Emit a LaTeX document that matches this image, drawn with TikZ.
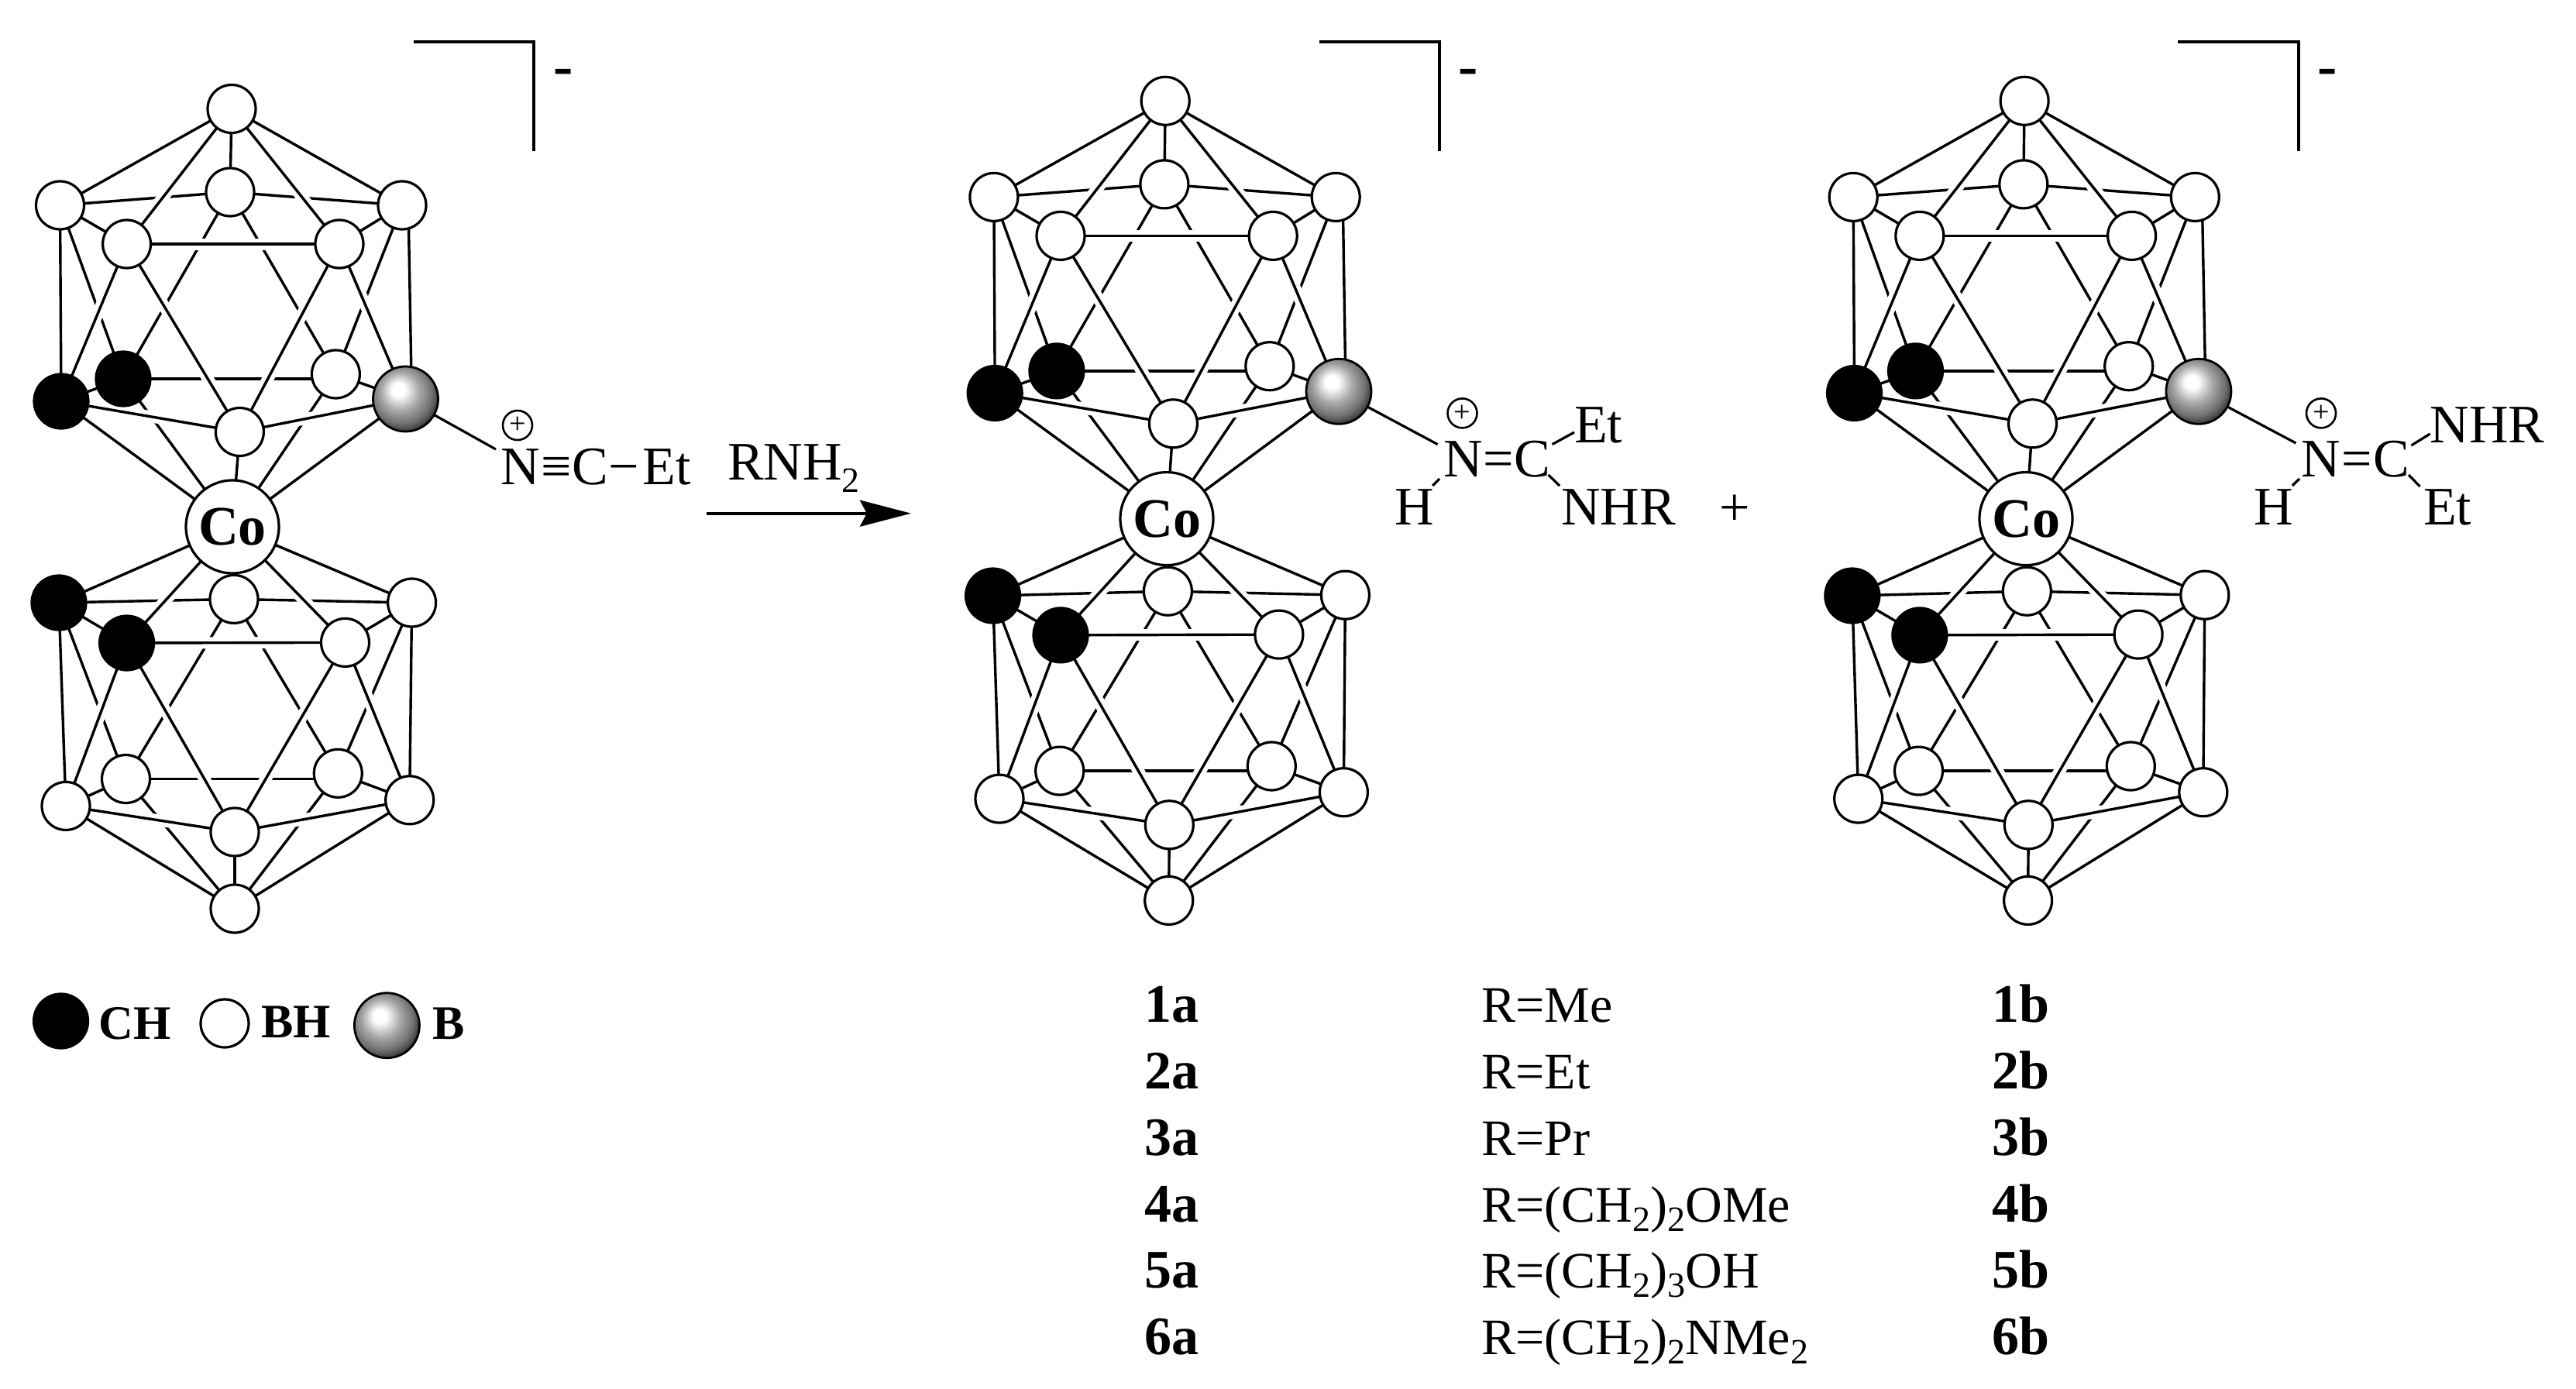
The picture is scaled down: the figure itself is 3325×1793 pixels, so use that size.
\documentclass[tikz,border=0pt]{standalone}
\usepackage{fontspec}
\setmainfont{Liberation Serif}
\usetikzlibrary{arrows.meta}
\pgfdeclarelayer{backl}
\pgfdeclarelayer{halol}
\pgfdeclarelayer{frontl}
\pgfsetlayers{backl,halol,frontl,main}
\pgfdeclareradialshading{sphereB}{\pgfpoint{-6bp}{8bp}}{color(0bp)=(white); color(5bp)=(white); color(15bp)=(black!35); color(23bp)=(black!55); color(31bp)=(black!88); color(50bp)=(black)}
\tikzset{
  edge/.style={draw=black,line width=1.7pt,line cap=butt},
  halo/.style={draw=white,line width=7.5pt,line cap=butt},
  atomW/.style={circle,draw=black,fill=white,line width=1.6pt,inner sep=0pt,outer sep=0pt,minimum size=31pt},
  atomK/.style={circle,fill=black,inner sep=0pt,outer sep=0pt,minimum size=36.6pt},
  atomB/.style={circle,draw=black,line width=1.4pt,shade,shading=sphereB,inner sep=0pt,outer sep=0pt,minimum size=42pt},
  atomCo/.style={circle,draw=black,fill=white,line width=1.6pt,inner sep=0pt,outer sep=0pt,minimum size=60pt,font=\fontsize{36}{36}\selectfont\bfseries},
  txt/.style={inner sep=0pt,outer sep=0pt,anchor=base west,font=\fontsize{35}{35}\selectfont},
  sym/.style={inner sep=0pt,outer sep=0pt,font=\fontsize{35}{35}\selectfont},
  tbl/.style={inner sep=0pt,outer sep=0pt,anchor=base west,font=\fontsize{33}{33}\selectfont},
  lab/.style={inner sep=0pt,outer sep=0pt,anchor=base west,font=\fontsize{35}{35}\selectfont\bfseries},
  leg/.style={inner sep=0pt,outer sep=0pt,anchor=base west,font=\fontsize{31}{31}\selectfont\bfseries},
  chg/.style={circle,draw=black,line width=1.3pt,inner sep=0pt,outer sep=0pt,minimum size=19pt,font=\fontsize{19}{19}\selectfont},
  mns/.style={inner sep=0pt,outer sep=0pt,font=\fontsize{38}{38}\selectfont\bfseries},
  bracket/.style={draw=black,line width=1.8pt,line join=miter},
  bond/.style={draw=black,line width=1.6pt},
  rxn/.style={draw=black,line width=1.8pt,-{Stealth[length=33pt,width=17pt,inset=4.4pt]}}
}
\newcommand{\subs}[1]{\raisebox{-6pt}{\fontsize{23}{23}\selectfont #1}}
% #1 deck prefix, #2 apex node, #3 foot node, #4 shift of the right upright edge
\newcommand{\deck}[4]{%
  \begin{pgfonlayer}{backl}
    \foreach \a/\b in {#2/#1BT,#1UL/#1BT,#1UR/#1BT,#1BT/#1BL,#1BT/#1BR,#1UL/#1BL,#1UR/#1BR,#1BL/#3,#1BR/#3,#1L/#1BL,#1BR/#1R}
      \draw[edge] (\a.center) -- (\b.center);
    \draw[edge] (#1BL.center) -- (#1BL.center -| #1BR.center);
  \end{pgfonlayer}
  \begin{pgfonlayer}{halol}
    \foreach \a/\b in {#2/#1UL,#2/#1UR,#2/#1FL,#2/#1FR,#1UL/#1FL,#1FL/#1FR,#1FR/#1UR,#1UL/#1L,#1FL/#1L,#1FL/#1C,#1FR/#1C,#1FR/#1R,#1L/#1C,#1C/#1R,#1L/#3,#1R/#3,#1C/#3}
      \draw[halo] (\a.center) -- (\b.center);
  \end{pgfonlayer}
  \begin{pgfonlayer}{frontl}
    \foreach \a/\b in {#2/#1UL,#2/#1UR,#2/#1FL,#2/#1FR,#1UL/#1FL,#1FL/#1FR,#1FR/#1UR,#1UL/#1L,#1FL/#1L,#1FL/#1C,#1FR/#1C,#1FR/#1R,#1L/#1C,#1C/#1R,#1L/#3,#1R/#3,#1C/#3}
      \draw[edge] (\a.center) -- (\b.center);
    \draw[edge] ([xshift=#4]#1UR.center) -- ([xshift=#4]#1R.center);
  \end{pgfonlayer}
}
\begin{document}
\begin{tikzpicture}[x=0.5pt,y=-0.5pt]
\useasboundingbox (0,0) rectangle (3325,1793);

%% complex 1
\node[atomW] (aT) at (299,140.5) {};
\node[atomW] (auUL) at (77.5,265) {};
\node[atomW] (auBT) at (297,248) {};
\node[atomW] (auUR) at (519,265) {};
\node[atomW] (auFL) at (163.6,315) {};
\node[atomW] (auFR) at (438,315) {};
\node[atomW] (auBR) at (433.4,483) {};
\node[atomK] (auBL) at (159,489) {};
\node[atomK] (auL) at (79,518) {};
\node[atomB] (auR) at (523.5,515) {};
\node[atomW] (auC) at (309.4,557.5) {};
\node[atomCo] (aCo) at (300,680) {Co};
\node[atomW] (alBT) at (302,773.4) {};
\node[atomK] (alUL) at (76,778) {};
\node[atomW] (alUR) at (531.6,778) {};
\node[atomK] (alFL) at (163.6,830) {};
\node[atomW] (alFR) at (445.5,829.4) {};
\node[atomW] (alBL) at (162.5,1005.5) {};
\node[atomW] (alBR) at (436.3,998.3) {};
\node[atomW] (alL) at (85,1040.4) {};
\node[atomW] (alR) at (528.7,1032.8) {};
\node[atomW] (alC) at (303,1074) {};
\node[atomW] (aBot) at (303,1173) {};
\deck{au}{aT}{aCo}{4pt}
\deck{al}{aCo}{aBot}{0pt}
\coordinate (abA) at (534,54);
\coordinate (abB) at (689,54);
\coordinate (abC) at (689,195);
\draw[bracket] (abA) -- (abB) -- (abC);
\node[mns] (aMinus) at (727,100) {-};
\node[chg] (aPlus) at (668,549) {+};
\node[txt] (aN) at (646,625) {N};
\node[sym,anchor=base] (aTri) at (718,625) {≡};
\node[txt] (aCc) at (738,625) {C};
\node[sym,anchor=base] (aDash) at (805,625) {−};
\node[txt] (aEt) at (829.5,625) {Et};
\coordinate (aBnd) at (640,580);
\draw[bond] (auR) -- (aBnd);

%% legend
\node[atomK] (legK) at (78.6,1318) {};
\node[leg] (legCH) at (127.4,1341.4) {CH};
\node[atomW] (legW) at (290,1321) {};
\node[leg] (legBH) at (337,1339) {BH};
\node[atomB] (legB) at (499.4,1323.7) {};
\node[leg] (legBB) at (558,1341.4) {B};

%% arrow
\node[txt] (rnh) at (939,619.3) {RNH\raisebox{-8pt}{\fontsize{23}{23}\selectfont 2}};
\coordinate (arrS) at (912,662.7);
\coordinate (arrE) at (1176,662.7);
\draw[rxn] (arrS) -- (arrE);
\node[sym] (plusS) at (2239.7,658.7) {+};

%% complex 2
\node[atomW] (bT) at (1504.2,130.3) {};
\node[atomW] (buUL) at (1282.9,254.4) {};
\node[atomW] (buBT) at (1502.9,237.9) {};
\node[atomW] (buUR) at (1724.2,254.4) {};
\node[atomW] (buFL) at (1369,304.4) {};
\node[atomW] (buFR) at (1643.2,304.4) {};
\node[atomW] (buBR) at (1638.8,472.7) {};
\node[atomK] (buBL) at (1363.9,478.9) {};
\node[atomK] (buL) at (1284.2,507.5) {};
\node[atomB] (buR) at (1728,505.3) {};
\node[atomW] (buC) at (1514.4,546.8) {};
\node[atomCo] (bCo) at (1506,669.6) {Co};
\node[atomW] (blBT) at (1507.4,763.2) {};
\node[atomK] (blUL) at (1281.6,769) {};
\node[atomW] (blUR) at (1736.4,768.2) {};
\node[atomK] (blFL) at (1369,819.9) {};
\node[atomW] (blFR) at (1650.9,819.1) {};
\node[atomW] (blBL) at (1367.7,995.1) {};
\node[atomW] (blBR) at (1641.3,989) {};
\node[atomW] (blL) at (1290,1031.1) {};
\node[atomW] (blR) at (1734.4,1022.7) {};
\node[atomW] (blC) at (1509.3,1064.8) {};
\node[atomW] (bBot) at (1508.7,1162.4) {};
\deck{bu}{bT}{bCo}{4.5pt}
\deck{bl}{bCo}{bBot}{0pt}
\coordinate (bbA) at (1702.6,54);
\coordinate (bbB) at (1858,54);
\coordinate (bbC) at (1858,195);
\draw[bracket] (bbA) -- (bbB) -- (bbC);
\node[mns] (bMinus) at (1895,100) {-};
\node[chg] (bPlus) at (1887.5,533.4) {+};
\node[txt] (bN) at (1863,615) {N};
\node[sym,anchor=base] (bDbl) at (1934,615) {=};
\node[txt] (bCc) at (1954.5,615) {C};
\node[txt] (bEt) at (2032,571) {Et};
\node[txt] (bH) at (1800.8,677.6) {H};
\node[txt] (bNHR) at (2015,677.6) {NHR};
\coordinate (bBnd) at (1855.6,573.6);
\coordinate (bN1) at (1858,618);
\coordinate (bH1) at (1849,627);
\coordinate (bC1) at (2003.6,573.6);
\coordinate (bE1) at (2032,558);
\coordinate (bC2) at (1998.5,612.9);
\coordinate (bR1) at (2013,627);
\draw[bond] (buR) -- (bBnd);
\draw[bond] (bN1) -- (bH1);
\draw[bond] (bC1) -- (bE1);
\draw[bond] (bC2) -- (bR1);

%% complex 3
\node[atomW] (cT) at (2613.1,130.3) {};
\node[atomW] (cuUL) at (2392.2,254.4) {};
\node[atomW] (cuBT) at (2611.8,237.9) {};
\node[atomW] (cuUR) at (2833.3,254.4) {};
\node[atomW] (cuFL) at (2477.8,304.4) {};
\node[atomW] (cuFR) at (2751.6,304.4) {};
\node[atomW] (cuBR) at (2747.7,472.7) {};
\node[atomK] (cuBL) at (2472.5,478.9) {};
\node[atomK] (cuL) at (2393.5,507.5) {};
\node[atomB] (cuR) at (2837.9,505.3) {};
\node[atomW] (cuC) at (2623.5,546.8) {};
\node[atomCo] (cCo) at (2615,669.6) {Co};
\node[atomW] (clBT) at (2616.3,763.2) {};
\node[atomK] (clUL) at (2390.8,769) {};
\node[atomW] (clUR) at (2845.8,768.2) {};
\node[atomK] (clFL) at (2477.8,819.9) {};
\node[atomW] (clFR) at (2760.1,819.1) {};
\node[atomW] (clBL) at (2476.5,995.1) {};
\node[atomW] (clBR) at (2750.3,989) {};
\node[atomW] (clL) at (2398.7,1031.1) {};
\node[atomW] (clR) at (2843.8,1022.7) {};
\node[atomW] (clC) at (2618.3,1064.8) {};
\node[atomW] (cBot) at (2617.6,1162.4) {};
\deck{cu}{cT}{cCo}{4.5pt}
\deck{cl}{cCo}{cBot}{0pt}
\coordinate (cbA) at (2811,54);
\coordinate (cbB) at (2966.7,54);
\coordinate (cbC) at (2966.7,195);
\draw[bracket] (cbA) -- (cbB) -- (cbC);
\node[mns] (cMinus) at (3004,100) {-};
\node[chg] (cPlus) at (2996,533.4) {+};
\node[txt] (cN) at (2970,615) {N};
\node[sym,anchor=base] (cDbl) at (3042.7,615) {=};
\node[txt] (cCc) at (3063,615) {C};
\node[txt] (cNHR) at (3136.6,571) {NHR};
\node[txt] (cH) at (2909,677.6) {H};
\node[txt] (cEt) at (3128,677.6) {Et};
\coordinate (cBnd) at (2963.4,572);
\coordinate (cN1) at (2968,618);
\coordinate (cH1) at (2958.8,627);
\coordinate (cC1) at (3112.4,575);
\coordinate (cR1) at (3136.6,560);
\coordinate (cC2) at (3109,613);
\coordinate (cE1) at (3123.5,628);
\draw[bond] (cuR) -- (cBnd);
\draw[bond] (cN1) -- (cH1);
\draw[bond] (cC1) -- (cR1);
\draw[bond] (cC2) -- (cE1);

%% table
\node[lab] (l1a) at (1477,1319.4) {1a};
\node[lab] (l2a) at (1477,1405) {2a};
\node[lab] (l3a) at (1477,1491) {3a};
\node[lab] (l4a) at (1477,1577) {4a};
\node[lab] (l5a) at (1477,1662) {5a};
\node[lab] (l6a) at (1477,1748) {6a};
\node[tbl] (r1) at (1912.7,1319.4) {R=Me};
\node[tbl] (r2) at (1912.7,1405) {R=Et};
\node[tbl] (r3) at (1912.7,1491) {R=Pr};
\node[tbl] (r4) at (1912.7,1577) {R=(CH\subs{2})\subs{2}OMe};
\node[tbl] (r5) at (1912.7,1662) {R=(CH\subs{2})\subs{3}OH};
\node[tbl] (r6) at (1912.7,1748) {R=(CH\subs{2})\subs{2}NMe\subs{2}};
\node[lab] (l1b) at (2571,1319.4) {1b};
\node[lab] (l2b) at (2571,1405) {2b};
\node[lab] (l3b) at (2571,1491) {3b};
\node[lab] (l4b) at (2571,1577) {4b};
\node[lab] (l5b) at (2571,1662) {5b};
\node[lab] (l6b) at (2571,1748) {6b};
\end{tikzpicture}
\end{document}
